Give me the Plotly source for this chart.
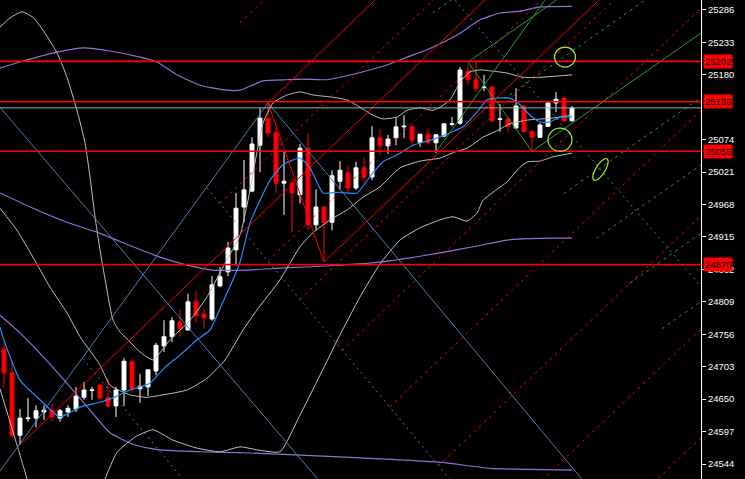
import math
import plotly.graph_objects as go

FONT = "Liberation Sans, Arial, sans-serif"

# ---------------- candles (bar index 0..71) ----------------
opens = [24732, 24693, 24591, 24618, 24619, 24629, 24632, 24619, 24629, 24634,
         24653, 24664, 24673, 24653, 24639, 24665, 24711, 24667, 24670, 24696,
         24737, 24752, 24776, 24763, 24809, 24789, 24781, 24835, 24858, 24894,
         24964, 24990, 25065, 25109, 25085, 25003, 25003, 24984, 25060, 24935,
         24964, 24939, 25006, 25020, 24995, 25028, 25013, 25077, 25064, 25077,
         25095, 25095, 25070, 25083, 25069, 25080, 25099, 25101, 25186, 25172,
         25159, 25160, 25107, 25108, 25093, 25129, 25088, 25078, 25096, 25134,
         25142, 25105]
highs = [24742, 24712, 24634, 24652, 24640, 24640, 24642, 24634, 24640, 24670,
         24678, 24670, 24675, 24685, 24670, 24717, 24716, 24691, 24699, 24742,
         24779, 24784, 24796, 24822, 24827, 24797, 24851, 24866, 24907, 24987,
         25041, 25078, 25126, 25134, 25093, 25054, 25011, 25067, 25085, 24993,
         24964, 25024, 25039, 25033, 25038, 25044, 25096, 25091, 25082, 25109,
         25114, 25098, 25083, 25093, 25082, 25101, 25111, 25193, 25196, 25201,
         25180, 25160, 25132, 25108, 25158, 25131, 25088, 25101, 25136, 25152,
         25142, 25129]
lows = [24670, 24588, 24575, 24613, 24604, 24616, 24614, 24613, 24621, 24629,
        24649, 24649, 24649, 24637, 24621, 24639, 24660, 24644, 24655, 24689,
        24727, 24743, 24752, 24763, 24776, 24765, 24778, 24833, 24851, 24868,
        24939, 24988, 25021, 25078, 24987, 24951, 24923, 24970, 24926, 24926,
        24874, 24926, 24992, 24988, 24992, 25003, 25008, 25052, 25051, 25065,
        25077, 25065, 25062, 25065, 25052, 25078, 25096, 25098, 25165, 25152,
        25154, 25103, 25087, 25087, 25093, 25087, 25055, 25077, 25095, 25119,
        25105, 25103]
closes = [24693, 24591, 24619, 24619, 24631, 24632, 24621, 24631, 24635, 24655,
          24665, 24665, 24652, 24639, 24665, 24712, 24667, 24671, 24698, 24738,
          24752, 24778, 24765, 24809, 24786, 24783, 24837, 24850, 24897, 24962,
          24992, 25067, 25109, 25085, 25003, 25006, 24987, 25060, 24935, 24964,
          24939, 25015, 25024, 24995, 25028, 25013, 25077, 25064, 25075, 25095,
          25096, 25073, 25083, 25069, 25082, 25100, 25100, 25188, 25172, 25158,
          25160, 25105, 25108, 25096, 25129, 25087, 25078, 25098, 25134, 25140,
          25105, 25126]
bars = list(range(len(opens)))

# ---------------- axis ----------------
Y_MIN, Y_MAX = 24519.5, 25302.3
X_MIN, X_MAX = -0.5, 87.125
tick_vals = [24544, 24597, 24650, 24703, 24756, 24809, 24862, 24915, 24968,
             25021, 25074, 25180, 25233, 25286]

# ---------------- indicators ----------------
gu_x = [-0.5, 0.75, 2.25, 3.625, 4.875, 6.625, 7.875, 9.125, 10.125, 10.75, 11.375, 12, 12.875,
        13.625, 14.5, 15.5, 17, 18.625, 20.75, 23.25, 25.375, 27.375, 29.5, 30.5, 31.125, 32.375,
        33.625, 35.375, 37, 38.625, 40.75, 42.875, 44.5, 46.125, 47.375, 49.125, 50.375, 52,
        53.625, 54.5, 55.75, 57, 58.25, 59.5, 61.125, 62.875, 64.875, 67, 71]
gu_y = [25258, 25273, 25283, 25274, 25253, 25216, 25176, 25122, 25069, 25013, 24948, 24894, 24828,
        24779, 24760, 24747, 24727, 24714, 24747, 24779, 24817, 24866, 24918, 24975, 25019, 25101,
        25134, 25147, 25152, 25147, 25144, 25139, 25127, 25114, 25108, 25111, 25122, 25126,
        25122, 25127, 25139, 25168, 25185, 25188, 25186, 25183, 25176, 25176, 25180]
gm_x = [-0.5, 1.625, 3.625, 5.75, 7.875, 9.5, 12, 13.25, 15.75, 17.875, 19.875, 22.875, 25.375,
        27.625, 29.875, 31.625, 34.5, 37, 38.625, 40.75, 42.875, 44.875, 47, 49.5, 52, 54.5,
        56.375, 57.875, 59.875, 61.375, 63.25, 65.375, 68.25, 71]
gm_y = [24962, 24926, 24882, 24833, 24791, 24752, 24706, 24673, 24657, 24653, 24657, 24665, 24684,
        24714, 24763, 24796, 24845, 24899, 24922, 24943, 24959, 24980, 24997, 25028, 25039, 25044,
        25054, 25060, 25078, 25087, 25100, 25106, 25109, 25114]
gl_x = [-0.5, 1.625, 3.625, 5.75, 7.875, 9.75, 11.375, 12.625, 14.125, 16.375, 18.625, 21.125,
        24.125, 27, 29.5, 31.75, 34.5, 37, 39.5, 42, 44.5, 47, 49.5, 52, 54.5, 56.125, 57.875,
        59.125, 59.875, 61.125, 62.875, 64.5, 65.5, 67, 68.625, 71]
gl_y = [24667, 24575, 24490, 24436, 24403, 24400, 24460, 24519, 24563, 24588, 24600, 24583,
        24570, 24564, 24572, 24567, 24564, 24624, 24689, 24755, 24817, 24871, 24910, 24930, 24943,
        24948, 24941, 24954, 24975, 24988, 25005, 25029, 25038, 25039, 25046, 25052]
pu_x = [-0.5, 2, 6.625, 9.875, 13.25, 17, 19.125, 21.625, 24.5, 27.875, 29.5, 32.375, 35.375,
        37.375, 40.375, 42, 44.875, 47.875, 50.375, 52.875, 55.75, 57, 59.5, 62, 64.5, 67, 71]
pu_y = [25191, 25201, 25217, 25224, 25219, 25209, 25201, 25180, 25163, 25155, 25155, 25170, 25172,
        25173, 25172, 25176, 25185, 25196, 25209, 25221, 25239, 25248, 25270, 25281, 25284, 25291, 25292]
pm_x = [-0.5, 3.625, 7.875, 12, 16.125, 19.5, 22.875, 26.125, 30.375, 34.5, 40.75, 47, 54.5,
        58.625, 62.875, 68.25, 71]
pm_y = [24987, 24962, 24939, 24921, 24899, 24882, 24869, 24861, 24861, 24864, 24868, 24874, 24889,
        24899, 24910, 24913, 24913]
pl_x = [-0.5, 2.25, 7, 10.75, 13.25, 16.375, 19.5, 24.5, 30.75, 43.25, 54.5, 60.75, 71]
pl_y = [24787, 24755, 24689, 24632, 24595, 24575, 24567, 24564, 24562, 24555, 24547, 24537, 24534]
ma_x = [-0.5, -0.125, 2, 4.5, 7, 9.5, 12, 13.625, 15.75, 17, 18.25, 20.125, 22, 24.125, 25.75,
        27.375, 28.625, 29.5, 30.75, 32, 33.25, 34.875, 37, 38.25, 39.875, 41.625, 44.125, 46,
        47.375, 49.125, 51.125, 53.25, 55.75, 57.375, 59.125, 60.375, 61.625, 63.25, 64.5, 65.75,
        67, 68.25, 69.5, 71]
ma_y = [24768, 24751, 24681, 24649, 24621, 24637, 24645, 24652, 24665, 24670, 24676, 24702, 24722,
        24747, 24763, 24809, 24845, 24874, 24938, 24975, 25008, 25033, 25044, 25028, 24987, 24988,
        24987, 25018, 25038, 25049, 25065, 25073, 25085, 25095, 25119, 25139, 25142, 25142, 25131,
        25114, 25103, 25103, 25111, 25111]

# ---------------- drawn objects ----------------
level_prices = [25202, 25136, 25055, 24870]
bid_price = 25126

red_segments = [(2, 24575, 60.375, 25305.6),      # trend line from the low
                (33, 25134, 46.375, 25302),       # from the peak
                (33, 25134, 40, 24874),           # zigzag leg
                (40, 24874, 74.375, 25302)]       # from the swing low
blue_segments = [(-1.25, 24519, 33, 25134),
                 (33, 25134, 72.25, 24519),
                 (-0.5, 25127, 39.25, 24519)]
blue_dashed = [(25.375, 24995, 55.75, 24519),
               (56.375, 25302, 87, 24836),
               (9.875, 24716, 22.375, 24519)]
red_ray_x = [29.5, 26.96, 32.95, 36.96, 42.25, 48.19, 54.29, 60.86, 67.2]
red_ray_y = [25265, 24970, 24876, 24813, 24730, 24637, 24541, 24438, 24339]
RED_SLOPE = 12.45            # price per bar
green_ray_x = [53.56, 58, 61.76, 66, 69.95, 74.05, 78.15, 82.24]
green_ray_y = [25281, 25201, 25134, 25055, 24986, 24913, 24839, 24765]
green_ray_solid = [False, True, False, True, False, False, False, False]
GREEN_SLOPE = 9.15
green_zigzag = (58, 25201, 66, 25055)
green_solid_extra = (54, 25054, 67.625, 25302)

RED = "#ff0000"
GREEN = "#2a9d2a"
STEEL = "#4682b4"
SILVER = "#c0c0c0"
PURPLE = "#9370db"
MA_BLUE = "#1e90ff"
ELL = "#a6f02a"

fig = go.Figure()
fig.add_trace(go.Candlestick(
    x=bars, open=opens, high=highs, low=lows, close=closes,
    increasing=dict(line=dict(color="#ffffff", width=1), fillcolor="#ffffff"),
    decreasing=dict(line=dict(color=RED, width=1), fillcolor=RED),
    whiskerwidth=0, hoverinfo="skip", showlegend=False))


def add_line(xs, ys, color, width=1.0, dash="solid", shape="linear"):
    fig.add_trace(go.Scatter(x=xs, y=ys, mode="lines",
                             line=dict(color=color, width=width, dash=dash, shape=shape, smoothing=0.5),
                             hoverinfo="skip", showlegend=False))


# indicators
for xs, ys in [(pu_x, pu_y), (pm_x, pm_y), (pl_x, pl_y)]:
    add_line(xs, ys, PURPLE, 1.2, shape="spline")
for xs, ys in [(gu_x, gu_y), (gm_x, gm_y), (gl_x, gl_y)]:
    add_line(xs, ys, SILVER, 1.0, shape="spline")
add_line(ma_x, ma_y, MA_BLUE, 1.2, shape="spline")

# objects
X_END = 95
for i in range(len(red_ray_x)):
    x0, y0 = red_ray_x[i], red_ray_y[i]
    add_line([x0, X_END], [y0, y0 + RED_SLOPE * (X_END - x0)], RED, 1.0, dash="3px,4px")
for i in range(len(green_ray_x)):
    x0, y0 = green_ray_x[i], green_ray_y[i]
    add_line([x0, X_END], [y0, y0 + GREEN_SLOPE * (X_END - x0)], GREEN, 1.0,
             dash="solid" if green_ray_solid[i] else "3px,4px")
add_line([green_zigzag[0], green_zigzag[2]], [green_zigzag[1], green_zigzag[3]], GREEN, 1.0)
add_line([green_solid_extra[0], green_solid_extra[2]], [green_solid_extra[1], green_solid_extra[3]], GREEN, 1.0)
for (x0, y0, x1, y1) in blue_segments:
    add_line([x0, x1], [y0, y1], STEEL, 1.0)
for (x0, y0, x1, y1) in blue_dashed:
    add_line([x0, x1], [y0, y1], STEEL, 1.0, dash="2px,4px")
for (x0, y0, x1, y1) in red_segments:
    add_line([x0, x1], [y0, y1], RED, 1.0)

# horizontal levels and bid line
for p in level_prices:
    add_line([X_MIN - 1, X_MAX + 1], [p, p], RED, 1.6)
add_line([X_MIN - 1, X_MAX + 1], [bid_price, bid_price], "#a8a8a8", 1.0)

# ellipses
PX_PER_BAR = 8.0
PRICE_PER_PX = (Y_MAX - Y_MIN) / 479.0
shapes = []
for (cx, cy, rx_px, ry_px) in [(70.125, 25209, 10.5, 10.0), (69.5, 25074, 12.0, 11.5)]:
    shapes.append(dict(type="circle", xref="x", yref="y",
                       x0=cx - rx_px / PX_PER_BAR, x1=cx + rx_px / PX_PER_BAR,
                       y0=cy - ry_px * PRICE_PER_PX, y1=cy + ry_px * PRICE_PER_PX,
                       line=dict(color=ELL, width=1.2)))
# tilted ellipse
cx, cy, a, b = 74.56, 25025.3, 12.4, 4.6
ux, uy = 0.526, -0.850
pts = []
for k in range(41):
    t = 2 * math.pi * k / 40
    dx = a * math.cos(t) * ux + b * math.sin(t) * (-uy)
    dy = a * math.cos(t) * uy + b * math.sin(t) * ux
    pts.append((cx + dx / PX_PER_BAR, cy - dy * PRICE_PER_PX))
path = "M " + " L ".join(f"{px:.4f},{py:.2f}" for px, py in pts) + " Z"
shapes.append(dict(type="path", xref="x", yref="y", path=path, line=dict(color=ELL, width=1.2)))

annotations = []
for p in level_prices:
    annotations.append(dict(x=1, xref="paper", y=p, yref="y", text=str(p), showarrow=False,
                            xanchor="left", yanchor="middle", xshift=2, bgcolor=RED,
                            font=dict(color="#000000", size=9.5, family=FONT), borderpad=1))

fig.update_layout(
    width=745, height=479, margin=dict(l=0, r=44, t=0, b=0),
    paper_bgcolor="#000000", plot_bgcolor="#000000", showlegend=False,
    shapes=shapes, annotations=annotations,
    xaxis=dict(range=[X_MIN, X_MAX], visible=False, rangeslider=dict(visible=False),
               showgrid=False, zeroline=False),
    yaxis=dict(range=[Y_MIN, Y_MAX], side="right", tickvals=tick_vals,
               ticktext=[str(v) for v in tick_vals], ticks="outside", ticklen=4,
               tickcolor="#ffffff", showline=True, linecolor="#ffffff", linewidth=1,
               showgrid=False, zeroline=False,
               tickfont=dict(color="#ffffff", size=9.5, family=FONT)),
)

fig.write_html("out.html", config={"displayModeBar": False},
               post_script="document.body.style.margin='0';document.body.style.padding='0';"
                           "document.body.style.background='#000';")
